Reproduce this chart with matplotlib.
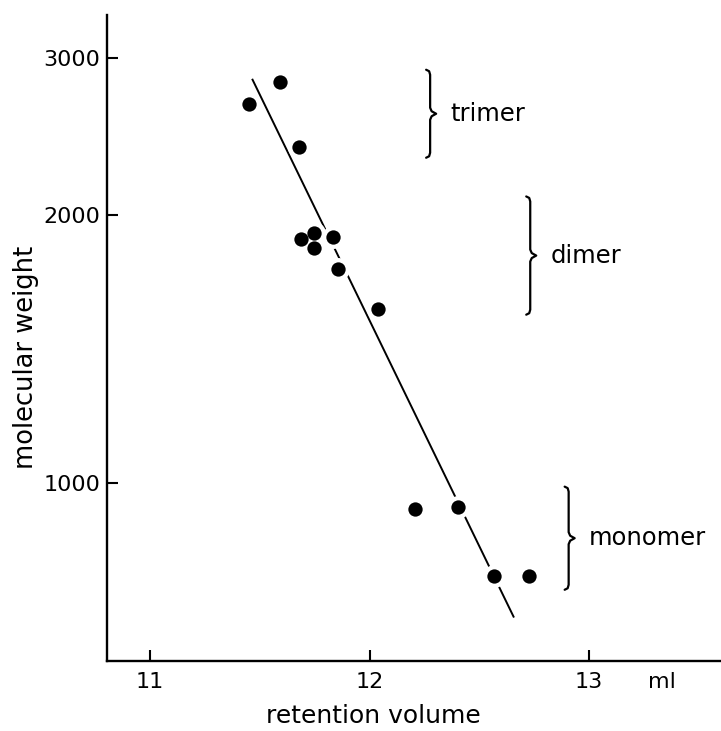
import numpy as np
import matplotlib
matplotlib.use("Agg")
import matplotlib.pyplot as plt
from matplotlib.ticker import FixedLocator, NullLocator, FixedFormatter

# measured points: retention volume (ml) vs molecular weight
volume = [11.453, 11.590, 11.680, 11.687, 11.745, 11.748, 11.833, 11.856,
          12.038, 12.205, 12.405, 12.566, 12.728]
mol_weight = [2668, 2819, 2384, 1882, 1912, 1839, 1888, 1740,
              1569, 935, 940, 786, 786]

# calibration line end points
fit_volume = [11.467, 12.656]
fit_weight = [2839, 708]

# braces: label, x position (ml), lower and upper molecular weight
brace_labels = ["trimer", "dimer", "monomer"]
brace_x = [12.276, 12.732, 12.907]
brace_lo = [2320, 1546, 759]
brace_hi = [2913, 2099, 991]

y_ticks = [1000, 2000, 3000]
x_ticks = [11, 12, 13]

plt.rcParams['font.family'] = ['DejaVu Sans']

fig = plt.figure(figsize=(7.21, 7.31), dpi=100)
ax = fig.add_axes([107/721, 70/731, 614/721, 646/731])

ax.set_yscale('log')
ax.set_xlim(10.804, 13.601)
ax.set_ylim(631.3, 3356)

for s in ['top', 'right']:
    ax.spines[s].set_visible(False)
for s in ['left', 'bottom']:
    ax.spines[s].set_linewidth(1.7)

ax.yaxis.set_major_locator(FixedLocator(y_ticks))
ax.yaxis.set_major_formatter(FixedFormatter([str(v) for v in y_ticks]))
ax.yaxis.set_minor_locator(NullLocator())
ax.xaxis.set_major_locator(FixedLocator(x_ticks))
ax.xaxis.set_major_formatter(FixedFormatter([str(v) for v in x_ticks]))
ax.tick_params(direction='in', length=8, width=1.5, labelsize=16)
ax.tick_params(axis='y', pad=5)
ax.tick_params(axis='x', pad=8)

ax.plot(fit_volume, fit_weight, color='black', lw=1.4, zorder=2)
# white halo so the line appears broken around dots
ax.plot(volume, mol_weight, 'o', color='white', ms=16.5, mec='none', zorder=3)
ax.plot(volume, mol_weight, 'o', color='black', ms=10.3, mec='none', zorder=4)

ax.annotate('ml', xy=(13.33, 0), xycoords=('data', 'axes fraction'),
            xytext=(0, -8), textcoords='offset points',
            ha='center', va='top', fontsize=16)

ax.set_xlabel('retention volume', fontsize=18, va='baseline')
ax.xaxis.set_label_coords(0.434, -(723 - 661) / 646)
ax.set_ylabel('molecular weight', fontsize=18.5, va='baseline', ha='center')
ax.yaxis.set_label_coords((33 - 107) / 614, (661 - 357) / 646)

# curly braces drawn in pixel offsets around data anchor
to_px = ax.transData
to_data = ax.transData.inverted()
for lab, bx, lo, hi in zip(brace_labels, brace_x, brace_lo, brace_hi):
    X, Y1 = to_px.transform((bx, hi))
    _, Y0 = to_px.transform((bx, lo))
    Ym = (Y0 + Y1) / 2
    pts = [(X - 4, Y1), (X - 1, Y1 - 1.5), (X, Y1 - 5),
           (X, Ym + 6), (X + 1.5, Ym + 2.5), (X + 6, Ym),
           (X + 1.5, Ym - 2.5), (X, Ym - 6),
           (X, Y0 + 5), (X - 1, Y0 + 1.5), (X - 4, Y0)]
    d = to_data.transform(pts)
    ax.plot(d[:, 0], d[:, 1], color='black', lw=1.6, solid_capstyle='round',
            solid_joinstyle='round', clip_on=False)
    tip = to_data.transform((X + 6, Ym))
    ax.annotate(lab, xy=tip, xytext=(10, 0), textcoords='offset points',
                ha='left', va='center', fontsize=17.5)

fig.savefig('out.png', dpi=100)
